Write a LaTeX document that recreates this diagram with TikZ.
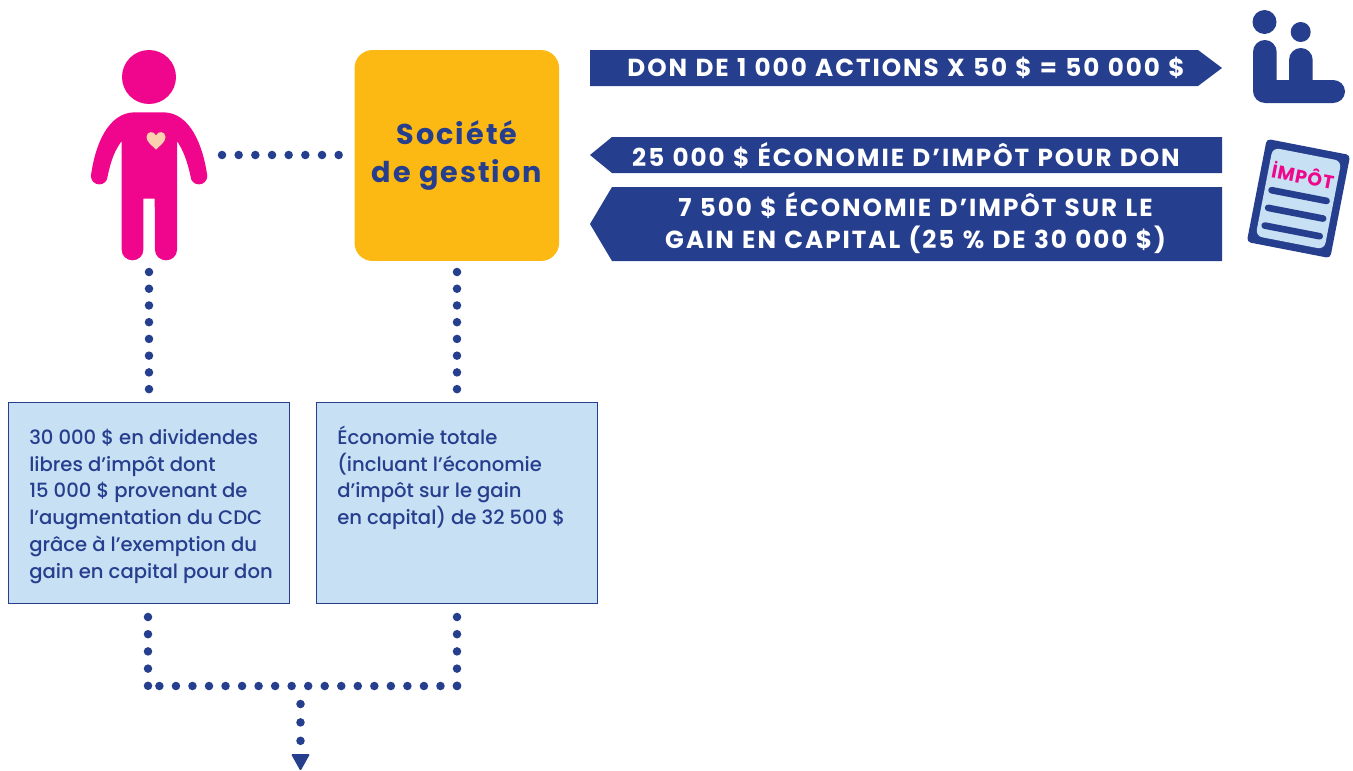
\documentclass[tikz,border=0pt]{standalone}
\usepackage{fontspec}
\setmainfont{Poppins}[Extension=.ttf,UprightFont=*-Medium,BoldFont=*-Bold]
\newfontfamily\bannerfont{Poppins}[Extension=.ttf,UprightFont=*-Bold,LetterSpace=8,WordSpace=1.15]
\newfontfamily\titlefont{Poppins}[Extension=.ttf,UprightFont=*-Bold,LetterSpace=7]
\newfontfamily\stampfont{Poppins}[Extension=.ttf,UprightFont=*-Bold,LetterSpace=4]
\definecolor{navy}{HTML}{253E8D}
\definecolor{rose}{HTML}{EF068C}
\definecolor{amber}{HTML}{FDB913}
\definecolor{pale}{HTML}{C8E0F3}
\definecolor{peach}{HTML}{FBD0AE}
\tikzset{
  x=0.75pt,y=-0.75pt,
  dotline/.style={draw=navy,line width=6.4pt,line cap=round,dash pattern=on 0pt off #1},
  dotline/.default=12.5pt,
  banner/.style={fill=navy},
  bannertext/.style={text=white,font=\bannerfont\fontsize{18.5}{24}\selectfont,align=center,inner sep=0pt},
  infobox/.style={draw=navy,line width=0.75pt,fill=pale,minimum width=210.75pt,minimum height=150.75pt,inner sep=0pt},
  infotext/.style={text=navy,font=\fontsize{14.7}{20.1}\selectfont,align=left,anchor=north west,inner sep=0pt},
  docline/.style={navy,line width=5pt,line cap=round},
}
\newcommand{\toprule}{\rule{0pt}{15pt}}
\begin{document}
\begin{tikzpicture}
\useasboundingbox (0,0) rectangle (1353,771);
% person
\fill[rose] (149,77) circle (27);
\fill[rose,rounded corners=0pt] (135,112.3) -- (163,112.3)
  .. controls (190,112.3) and (203,145) .. (207.3,176)
  arc[start angle=0,end angle=-180,x radius=8.4,y radius=-8.4]
  .. controls (187,160) and (183,150) .. (177,141)
  -- (177,250) arc[start angle=0,end angle=-180,x radius=11,y radius=-10.3]
  -- (154.7,198.7) -- (143.3,198.7) -- (143.3,250)
  arc[start angle=0,end angle=-180,x radius=10.8,y radius=-10.3]
  -- (121.7,141)
  .. controls (115,150) and (111,160) .. (107.7,176)
  arc[start angle=0,end angle=-180,x radius=8.4,y radius=-8.4]
  .. controls (95,145) and (108,112.3) .. (135,112.3) -- cycle;
\fill[peach] (156,149.5) .. controls (152,145.5) and (146.5,142) .. (146.5,137)
  .. controls (146.5,131) and (154,130.5) .. (156,135.5)
  .. controls (158,130.5) and (165.5,131) .. (165.5,137)
  .. controls (165.5,142) and (160,145.5) .. (156,149.5) -- cycle;
% company
\node[fill=amber,rounded corners=13.5pt,minimum width=153.4pt,minimum height=158.2pt,inner sep=0pt] (societe) at (456.8,155.5) {};
\node[text=navy,font=\titlefont\fontsize{21.5}{28.5}\selectfont,align=center,inner sep=0pt] (societetext) at (457,155.5) {Société\\de gestion};
% banners
\fill[banner] (590,50) -- (1198,50) -- (1222,68) -- (1198,86) -- (590,86) -- cycle;
\node[bannertext] (b1) at (906,68) {DON DE 1 000 ACTIONS X 50 \$ = 50 000 \$};
\fill[banner] (590,155) -- (612,137) -- (1222,137) -- (1222,173) -- (612,173) -- cycle;
\node[bannertext] (b2) at (906,156) {25 000 \$ ÉCONOMIE D’IMPÔT POUR DON};
\fill[banner] (590,224) -- (612,187) -- (1222,187) -- (1222,261) -- (612,261) -- cycle;
\node[bannertext] (b3) at (915.5,223) {7 500 \$ ÉCONOMIE D’IMPÔT SUR LE\\GAIN EN CAPITAL (25 \% DE 30 000 \$)};
% couple icon
\fill[navy] (1264.5,22) circle (12);
\fill[navy] (1300.7,32) circle (10);
\fill[navy] (1253,52) arc[start angle=180,end angle=0,x radius=11.85,y radius=-12]
  -- (1276.7,80) -- (1289,80) -- (1289,60)
  arc[start angle=180,end angle=0,x radius=11.85,y radius=-12]
  -- (1312.7,80) -- (1333,80)
  arc[start angle=90,end angle=-90,x radius=12,y radius=-11.5]
  -- (1265,103) arc[start angle=270,end angle=180,x radius=12,y radius=-12] -- cycle;
% tax document
\begin{scope}[shift={(1298.5,198.5)},rotate=-11]
  \fill[navy,rounded corners=3pt] (-42.5,-52.5) rectangle (42.5,52.5);
  \fill[pale,rounded corners=5pt] (-35,-45) rectangle (35,45);
  \node[rotate=-11,text=rose,font=\stampfont\fontsize{14}{14}\selectfont,inner sep=0pt] (stamp) at (0,-24) {İMPÔT};
  \draw[docline] (-28,-3) -- (28,-3);
  \draw[docline] (-28,15) -- (28,15);
  \draw[docline] (-28,33) -- (28,33);
\end{scope}
% info boxes
\node[infobox] (left) at (149,503) {};
\node[infobox] (right) at (457,503) {};
\node[infotext] at (29,424) {\toprule 30 000 \$ en dividendes\\libres d’impôt dont\\15 000 \$ provenant de\\l’augmentation du CDC\\grâce à l’exemption du\\gain en capital pour don};
\node[infotext] at (337,424) {\toprule Économie totale\\(incluant l’économie\\d’impôt sur le gain\\en capital) de 32 500 \$};
% dotted connectors
\coordinate (p1) at (222,155); \coordinate (p2) at (339.5,155);
\draw[dotline=12.5pt] (p1) -- (p2);
\coordinate (v1a) at (149,272); \coordinate (v1b) at (149,390);
\coordinate (v2a) at (457,272); \coordinate (v2b) at (457,390);
\draw[dotline=12.55pt] (v1a) -- (v1b);
\draw[dotline=12.55pt] (v2a) -- (v2b);
\coordinate (c1) at (148,617); \coordinate (c2) at (148,686);
\coordinate (c3) at (457,617); \coordinate (c4) at (457,686);
\draw[dotline=12.9pt] (c1) -- (c2);
\draw[dotline=12.9pt] (c3) -- (c4);
\draw[dotline=12.4pt] (c4) -- (c2);
\coordinate (j) at (300.5,704); \coordinate (k) at (300.5,741.5);
\draw[dotline=13.8pt] (j) -- (k);
\fill[navy,rounded corners=1pt] (291,754) -- (310,754) -- (300.5,771) -- cycle;
\end{tikzpicture}
\end{document}
